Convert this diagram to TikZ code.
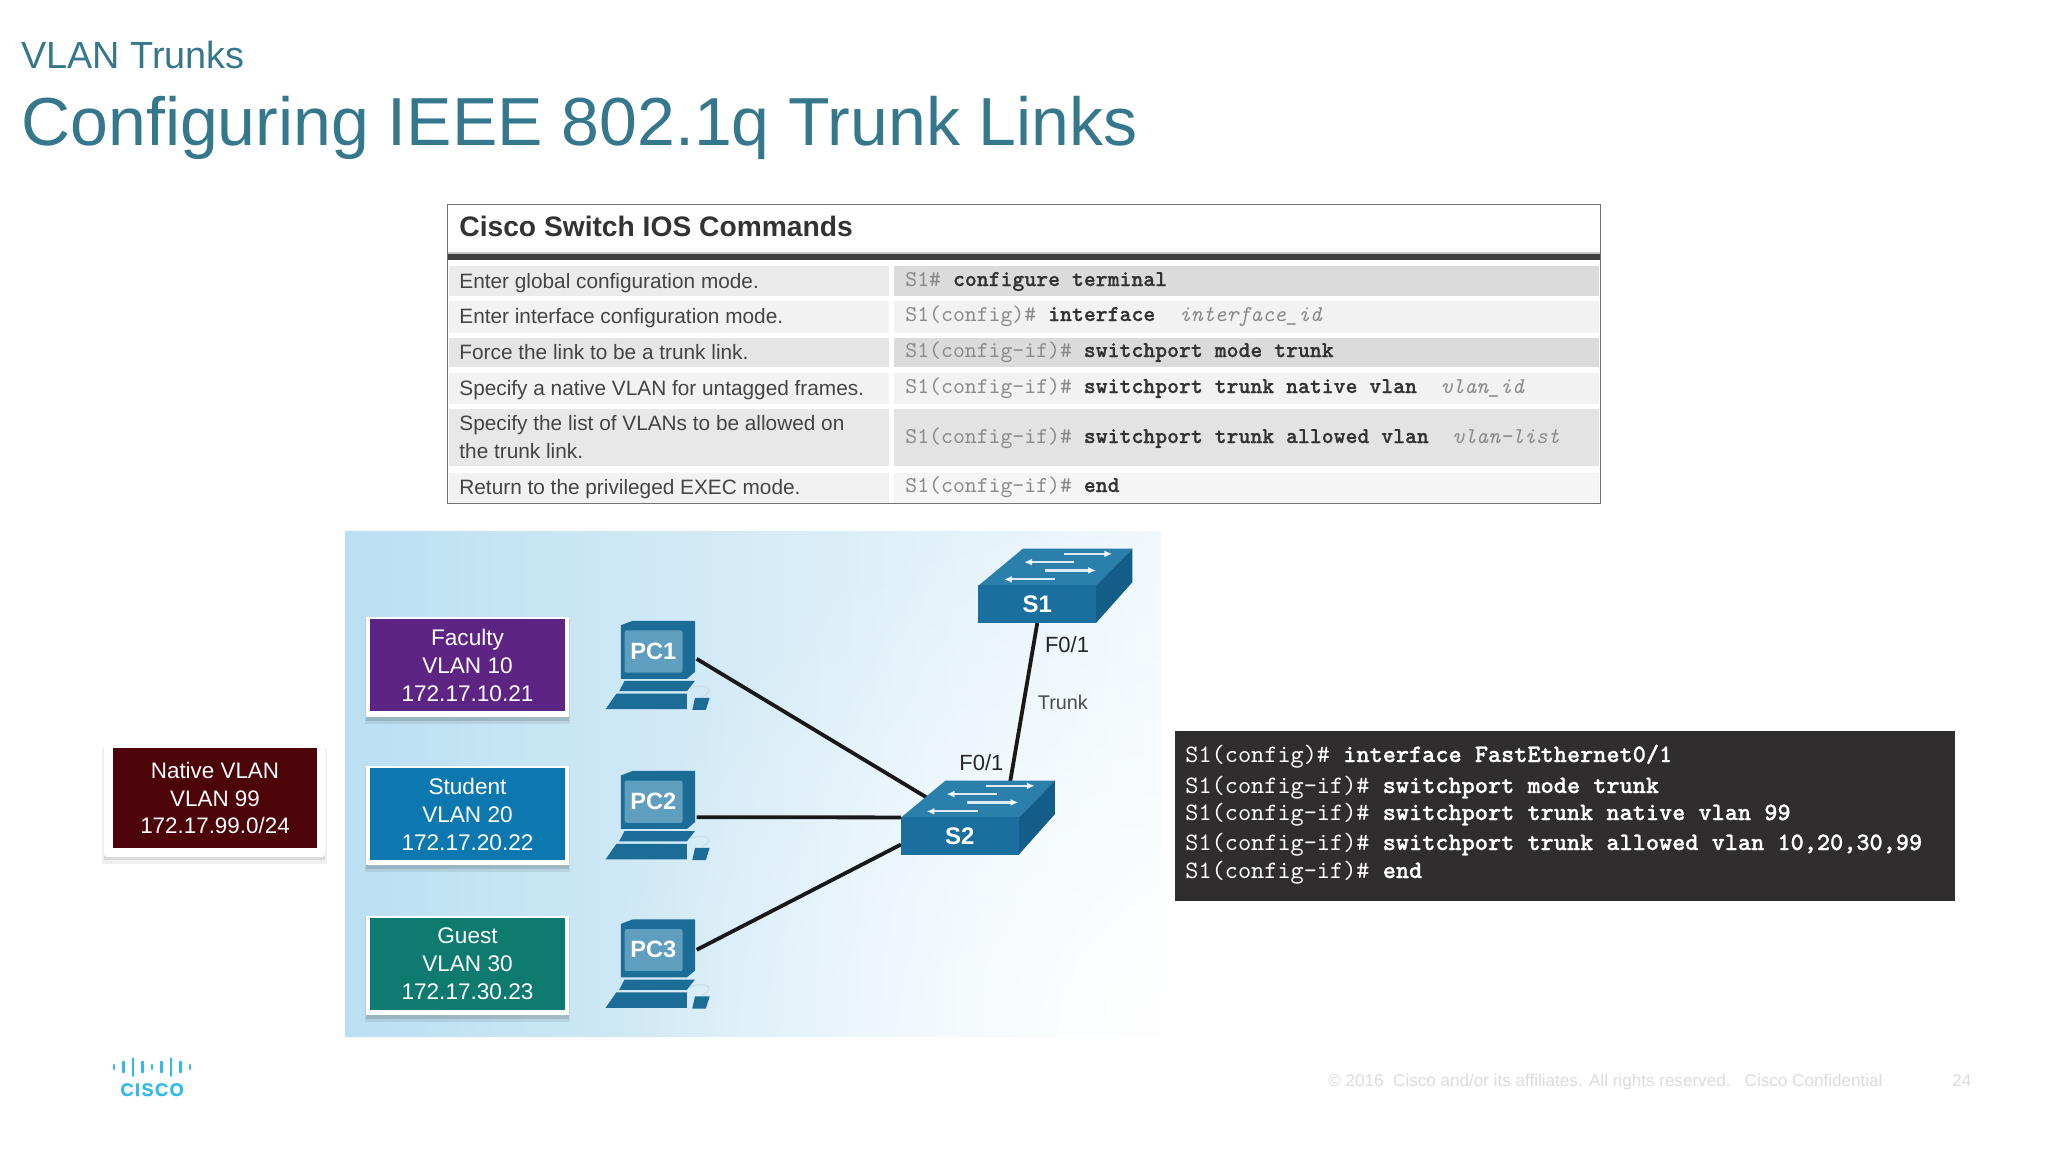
\documentclass[tikz,border=0pt]{standalone}
\usepackage{fontspec}
\setmainfont{Liberation Sans}
\setmonofont{lmmono10-regular.otf}[BoldFont=lmmonolt10-bold.otf,BoldFeatures={FakeBold=0.9},ItalicFont=lmmono10-italic.otf]
\usetikzlibrary{arrows.meta,calc,fadings}
\definecolor{titlec}{HTML}{35778C}
\definecolor{tablec}{HTML}{444444}
\definecolor{promptc}{HTML}{8A8A8A}
\definecolor{sfront}{HTML}{1A6F9E}
\definecolor{stop}{HTML}{2A7FAB}
\definecolor{sside}{HTML}{125E88}
\definecolor{pcdark}{HTML}{1C6C98}
\definecolor{pcscreen}{HTML}{5F9EBF}
\definecolor{bgleft}{HTML}{BBDFF2}
\definecolor{bgmid}{HTML}{D6ECF7}
\definecolor{bgright}{HTML}{F0F8FC}
\definecolor{vpurple}{HTML}{5E2483}
\definecolor{vblue}{HTML}{0D78B0}
\definecolor{vteal}{HTML}{0E7A70}
\definecolor{vmaroon}{HTML}{4D0408}
\definecolor{logoc}{HTML}{35B8EA}
\definecolor{termbg}{HTML}{2F2D2D}
\tikzfading[name=bgfade,inner color=transparent!0,outer color=transparent!100]
\pgfdeclarelayer{back}
\pgfsetlayers{back,main}
\newcommand{\fsz}[1]{\fontsize{#1}{#1}\selectfont}
\tikzset{
  title/.style={anchor=base west,inner sep=0,text=titlec},
  lefttxt/.style={anchor=base west,inner sep=0,text=tablec,font=\fsz{10.4}},
  cmdtxt/.style={anchor=base west,inner sep=0,text=black!80,font=\ttfamily\fsz{11.33}},
  termtxt/.style={anchor=base west,inner sep=0,text=white,font=\ttfamily\fsz{12.53}},
  vbox/.style={inner sep=0,outer sep=0,text=white,align=center,font=\fontsize{11.3}{14}\selectfont,minimum width=97.5pt,minimum height=46pt},
  netlabel/.style={anchor=base west,inner sep=0,text=black!85,font=\fsz{11}},
  foot/.style={anchor=base west,inner sep=0,text=black!14,font=\fsz{8.54}},
  link/.style={line width=1.9pt,black!90},
  swarrow/.style={white,opacity=.85,line width=1.1pt,-{Latex[length=4pt,width=3.5pt]}},
  pcnode/.style={inner sep=0,outer sep=0,minimum width=43.4pt,minimum height=29pt,text=white,font=\bfseries\fsz{11.8}},
  swnode/.style={inner sep=0,outer sep=0,minimum width=58.8pt,minimum height=18.8pt,fill=sfront,text=white,font=\bfseries\fsz{12}},
  logobar/.style={line width=1.25pt,line cap=round,logoc}
}
\newcommand{\rowbg}[4]{%
  \fill[#3] (449,#1) rectangle (889,#2);
  \fill[#4] (894,#1) rectangle (1599,#2);}
\newcommand{\pmt}[1]{{\color{promptc}#1}}
% x0 y0 x1 y1 : white frame and shadow of a VLAN box
\newcommand{\frameshadow}[4]{%
  \fill[black,opacity=.08] ({#1-1},{#2+2}) rectangle ({#3+1},{#4+7});
  \fill[black,opacity=.12] (#1,{#2+2}) rectangle (#3,{#4+4});
  \fill[white] (#1,#2) rectangle (#3,#4);}
% name, label, Y offset (in zoom units)
\newcommand{\pcicon}[3]{%
  \begin{scope}[shift={(0,#3)}]
    \fill[pcdark] (518,305) -- (540,292) -- (655,292) -- (655,440) -- (640,460) -- (518,460) -- cycle;
    \fill[pcdark] (525,466) -- (655,466) -- (640,496) -- (515,496) -- cycle;
    \fill[pcdark] (510,503) -- (640,503) -- (640,548) -- (490,548) -- cycle;
    \fill[pcdark] (655,515) -- (682,515) -- (675,550) -- (650,550) -- cycle;
    \draw[pcscreen!35!white,line width=.6pt] (645,488) .. controls (675,470) and (695,490) .. (668,512);
    \fill[pcscreen,rounded corners=1pt] (525,320) rectangle (632,442);
    \node[pcnode] (#1) at (578,380) {#2};
  \end{scope}}
% name, label, X offset, Y offset
\newcommand{\swicon}[4]{%
  \begin{scope}[shift={(#3,#4)}]
    \fill[stop] (1178,190) -- (1260,83) -- (1462,83) -- (1395,190) -- cycle;
    \fill[sside] (1395,190) -- (1462,83) -- (1462,180) -- (1395,298) -- cycle;
    \node[swnode] (#1) at (1286.5,244) {\raisebox{-1.3pt}{#2}};
    \draw[swarrow] (1335,98) -- (1425,98);
    \draw[swarrow] (1355,122) -- (1262,122);
    \draw[swarrow] (1300,146) -- (1395,146);
    \draw[swarrow] (1320,172) -- (1225,172);
  \end{scope}}
\begin{document}
\begin{tikzpicture}[x=0.5pt,y=-0.5pt]
\useasboundingbox (0,0) rectangle (2048,1152);

% titles
\node[title,font=\fsz{18.9}] (sub) at (21,68) {VLAN Trunks};
\node[title,font=\fsz{34}] (main) at (21,145) {Configuring IEEE 802.1q Trunk Links};

% table
\fill[black!22] (447,252) rectangle (1600,254);
\rowbg{266}{296}{black!8}{black!14}
\rowbg{301}{333}{black!5}{black!5}
\rowbg{338}{367}{black!10}{black!14}
\rowbg{373}{404}{black!5}{black!5}
\rowbg{409}{466}{black!9}{black!11}
\rowbg{473}{503}{black!5}{black!4}
\fill[black!75] (447,254) rectangle (1600,260);
\draw[black!55,line width=.5pt] (447,204) rectangle (1600,503);
\node[anchor=base west,inner sep=0,text=black!80,font=\bfseries\fsz{14.1}] (thead) at (459,236) {Cisco Switch IOS Commands};
\node[lefttxt] (l1) at (459,288) {Enter global configuration mode.};
\node[lefttxt] (l2) at (459,323) {Enter interface configuration mode.};
\node[lefttxt] (l3) at (459,359) {Force the link to be a trunk link.};
\node[lefttxt] (l4) at (459,395) {Specify a native VLAN for untagged frames.};
\node[lefttxt] (l5a) at (459,430) {Specify the list of VLANs to be allowed on};
\node[lefttxt] (l5b) at (459,458) {the trunk link.};
\node[lefttxt] (l6) at (459,494) {Return to the privileged EXEC mode.};
\node[cmdtxt] (c1) at (905,286) {\pmt{S1\#}~\textbf{configure terminal}};
\node[cmdtxt] (c2) at (905,321) {\pmt{S1(config)\#}~\textbf{interface}~~{\color{promptc}\itshape interface\_id}};
\node[cmdtxt] (c3) at (905,357) {\pmt{S1(config-if)\#}~\textbf{switchport mode trunk}};
\node[cmdtxt] (c4) at (905,393) {\pmt{S1(config-if)\#}~\textbf{switchport trunk native vlan}~~{\color{promptc}\itshape vlan\_id}};
\node[cmdtxt] (c5) at (905,443) {\pmt{S1(config-if)\#}~\textbf{switchport trunk allowed vlan}~~{\color{promptc}\itshape vlan-list}};
\node[cmdtxt] (c6) at (905,492) {\pmt{S1(config-if)\#}~\textbf{end}};

% network background
\begin{pgfonlayer}{back}
  \shade[left color=bgleft,middle color=bgmid,right color=bgright] (345,531) rectangle (1161,1036);
  \begin{scope}
    \clip (345,531) rectangle (1161,1036);
    \fill[white,path fading=bgfade] (1161,1036) circle (560);
  \end{scope}
\end{pgfonlayer}

% VLAN boxes
\frameshadow{366}{617}{569}{717}
\node[vbox,fill=vpurple] (faculty) at (467.5,665) {Faculty\\VLAN 10\\172.17.10.21};
\frameshadow{366}{766}{569}{865}
\node[vbox,fill=vblue] (student) at (467.5,814) {Student\\VLAN 20\\172.17.20.22};
\frameshadow{366}{916}{569}{1015}
\node[vbox,fill=vteal] (guest) at (467.5,964) {Guest\\VLAN 30\\172.17.30.23};

% native VLAN box
\fill[black,opacity=.06] (102,748) rectangle (327,864);
\fill[black,opacity=.10] (104,748) rectangle (325,860);
\fill[white,rounded corners=1.5pt] (104,742) rectangle (325,857);
\node[vbox,fill=vmaroon,minimum width=102pt,minimum height=50pt,font=\fontsize{11.2}{13.7}\selectfont] (native) at (215,798) {Native VLAN\\VLAN 99\\172.17.99.0/24};

% network icons, in the reference crop's units
\begin{scope}[shift={(340,520)},x=0.2710pt,y=-0.1726pt]
  \pcicon{PC1}{PC1}{0}
  \pcicon{PC2}{PC2}{435}
  \pcicon{PC3}{PC3}{865}
  \swicon{S1}{S1}{0}{0}
  \swicon{S2}{S2}{-143}{672}
  \node[netlabel] (f1) at (1300,385) {F0/1};
  \node[netlabel] (f2) at (1142,725) {F0/1};
  \node[netlabel,text=black!70,font=\fsz{9.9}] (trunk) at (1287,549) {Trunk};
\end{scope}

\begin{pgfonlayer}{back}
  \draw[link] (PC1.-10) -- (S2.north);
  \draw[link] (PC2.-20.3) -- (S2.north west);
  \draw[link] (PC3.east) -- (S2.188);
  \draw[link] (S1.south) -- (S2.23);
\end{pgfonlayer}

% terminal
\fill[termbg] (1175,731) rectangle (1955,901);
\node[termtxt] (t1) at (1185,762) {S1(config)\#~\textbf{interface FastEthernet0/1}};
\node[termtxt] (t2) at (1185,793) {S1(config-if)\#~\textbf{switchport mode trunk}};
\node[termtxt] (t3) at (1185,820) {S1(config-if)\#~\textbf{switchport trunk native vlan 99}};
\node[termtxt] (t4) at (1185,850) {S1(config-if)\#~\textbf{switchport trunk allowed vlan 10,20,30,99}};
\node[termtxt] (t5) at (1185,878) {S1(config-if)\#~\textbf{end}};

% logo
\foreach \i/\h in {0/2,1/5.2,2/8.8,3/5.2,4/2,5/5.2,6/8.8,7/5.2,8/2}
  \draw[logobar] ({114+\i*9.5},{1067-\h}) -- ({114+\i*9.5},{1067+\h});
\node[anchor=base west,inner sep=0,text=logoc,font=\bfseries\fsz{9.2}\addfontfeature{LetterSpace=7,FakeBold=0.6}] (cisco) at (120,1096) {CISCO};

% footer
\node[foot] (copy) at (1328,1086) {© 2016\ \ Cisco and/or its affiliates. All rights reserved.\ \ \ Cisco Confidential};
\node[foot] (page) at (1952,1086) {24};
\end{tikzpicture}
\end{document}
